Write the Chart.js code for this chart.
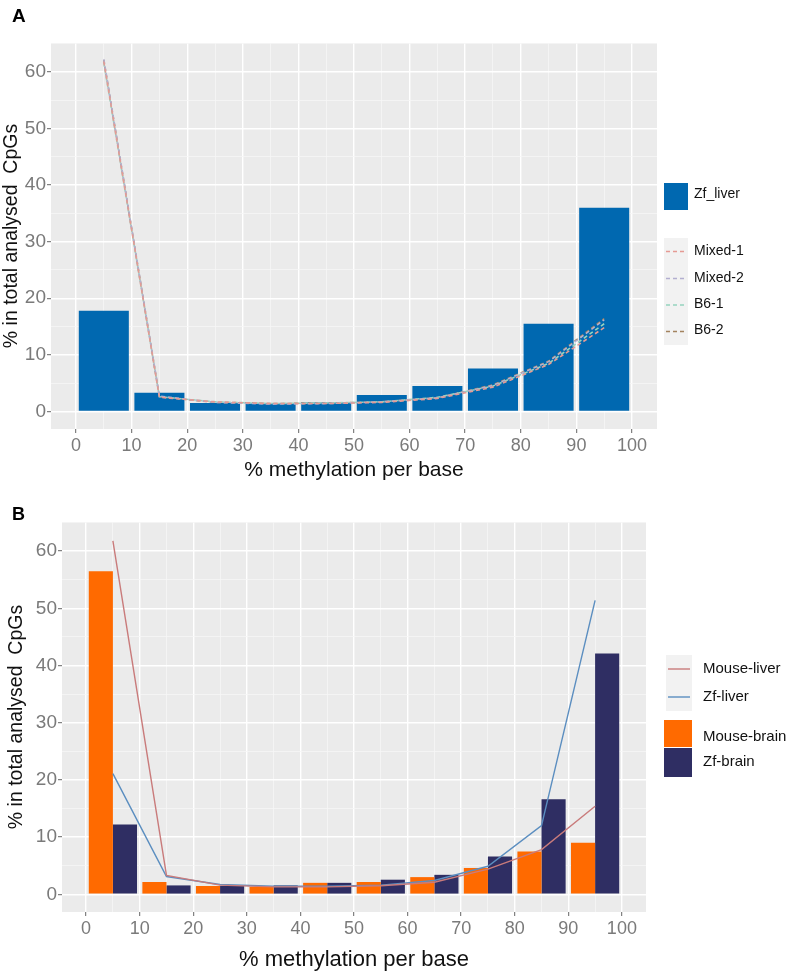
<!DOCTYPE html>
<html>
<head>
<meta charset="utf-8">
<script src="https://cdn.jsdelivr.net/npm/chart.js@4.4.1/dist/chart.umd.min.js"></script>
<style>
  body { margin: 0; background: #fff; }
  .panel { position: relative; width: 787px; height: 487px; }
</style>
</head>
<body>
<div class="panel"><canvas id="chartA" width="787" height="487"></canvas></div>
<div class="panel"><canvas id="chartB" width="787" height="487"></canvas></div>
<script>
// bin midpoints (% methylation) and axis labels
const bins = [5, 15, 25, 35, 45, 55, 65, 75, 85, 95];
const xLabels = [0, 10, 20, 30, 40, 50, 60, 70, 80, 90, 100];
const yLabels = [0, 10, 20, 30, 40, 50, 60];

// panel A
const zfLiverBars = [17.8, 3.3, 1.5, 1.4, 1.6, 2.9, 4.5, 7.6, 15.5, 36.0];
const mixed1 = [61.8, 2.5, 1.7, 1.4, 1.4, 1.6, 2.3, 4.3, 8.3, 14.8];
const mixed2 = [62.2, 2.7, 1.6, 1.3, 1.4, 1.7, 2.4, 4.6, 8.8, 16.2];
const b61 = [61.6, 2.6, 1.7, 1.4, 1.5, 1.7, 2.5, 4.5, 8.5, 15.5];
const b62 = [62.1, 2.6, 1.6, 1.4, 1.45, 1.7, 2.4, 4.7, 8.9, 16.4];

// panel B
const mouseBrain = [56.5, 2.15, 1.45, 1.3, 2.0, 2.15, 3.0, 4.6, 7.5, 9.0];
const zfBrain = [12.2, 1.55, 1.45, 1.55, 2.0, 2.55, 3.4, 6.6, 16.6, 42.1];
const mouseLiver = [61.8, 3.3, 1.6, 1.3, 1.3, 1.5, 2.1, 4.4, 7.8, 15.4];
const zfLiverLine = [21.1, 3.1, 1.7, 1.4, 1.4, 1.6, 2.4, 4.9, 12.0, 51.4];

const FONT = "'Liberation Sans', Arial, sans-serif";
Chart.defaults.font.family = FONT;

const pts = vals => bins.map((b, i) => ({x: b, y: vals[i]}));

// grey panel, tag letter and a ggplot-like legend
const ggPanel = {
  id: 'ggPanel',
  beforeDraw(chart) {
    const {ctx, chartArea: a} = chart;
    ctx.save();
    ctx.fillStyle = '#ebebeb';
    ctx.fillRect(a.left, a.top, a.width, a.height);
    ctx.restore();
  },
  afterDraw(chart, args, opts) {
    const ctx = chart.ctx;
    ctx.save();
    ctx.fillStyle = '#000';
    ctx.font = 'bold ' + opts.tagSize + 'px ' + FONT;
    ctx.textBaseline = 'alphabetic';
    ctx.fillText(opts.tag, 12, opts.tagY);

    opts.legend.forEach(it => {
      const ds = chart.data.datasets[it.ds];
      const [x, y, w, h] = it.box;
      if (ds.type === 'bar') {
        ctx.fillStyle = ds.backgroundColor;
        ctx.fillRect(x, y, w, h);
      } else {
        ctx.fillStyle = '#f2f2f2';
        ctx.fillRect(x, y, w, h);
        ctx.strokeStyle = ds.borderColor;
        ctx.lineWidth = ds.borderWidth;
        ctx.setLineDash(ds.borderDash || []);
        ctx.beginPath();
        ctx.moveTo(x + 2, y + h / 2);
        ctx.lineTo(x + w - 2, y + h / 2);
        ctx.stroke();
        ctx.setLineDash([]);
      }
      ctx.fillStyle = '#111';
      ctx.font = opts.legendSize + 'px ' + FONT;
      ctx.textBaseline = 'middle';
      ctx.fillText(ds.label, opts.textX, it.textY);
    });
    ctx.restore();
  }
};

function scales(o) {
  const major = (v, step) => Math.abs(v % step) < 1e-9;
  const grid = step => ({
    offset: false,
    color: c => major(c.tick.value, step) ? '#ffffff' : '#f6f6f6',
    lineWidth: c => major(c.tick.value, step) ? 1.4 : 0.8,
    tickColor: c => major(c.tick.value, step) ? '#666' : 'rgba(0,0,0,0)',
    tickWidth: 1,
    tickLength: 4
  });
  return {
    x: {
      type: 'linear', min: -4.5, max: 104.5, offset: false,
      grid: grid(10),
      border: {display: false},
      ticks: {
        stepSize: 5, includeBounds: false, autoSkip: false, maxRotation: 0,
        padding: 2, color: '#7a7a7a', font: {size: 18},
        callback: v => xLabels.includes(v) ? String(v) : ''
      },
      title: {display: true, text: '% methylation per base', color: '#111',
        font: {size: o.xTitle}, padding: {top: 0, bottom: o.xTitlePad}},
      afterFit: s => { s.height = o.xH; }
    },
    y: {
      type: 'linear', min: -3.1, max: 65.1,
      grid: grid(10),
      border: {display: false},
      ticks: {
        stepSize: 5, includeBounds: false, autoSkip: false,
        padding: 1, color: '#7a7a7a', font: {size: 19},
        callback: v => yLabels.includes(v) ? String(v) : ''
      },
      title: {display: true, text: '% in total analysed  CpGs', color: '#111',
        font: {size: o.yTitle}, padding: {top: o.yTitlePad, bottom: 0}},
      afterFit: s => { s.width = o.yW; }
    }
  };
}

const lineDs = (label, vals, color, dash, width) => ({
  type: 'line', label, data: pts(vals), borderColor: color, borderWidth: width,
  borderDash: dash, pointRadius: 0, fill: false, order: 0, tension: 0
});
// grid ticks sit every 5 units, half the bin width, so the bar ruler
// sees 5 units: 1.8 gives bars 9 units wide as in the original
const barDs = (label, vals, color) => ({
  type: 'bar', label, data: pts(vals), backgroundColor: color, borderWidth: 0,
  categoryPercentage: 1.8, barPercentage: 1.0, order: 1
});

new Chart(document.getElementById('chartA'), {
  type: 'bar',
  data: {
    datasets: [
      barDs('Zf_liver', zfLiverBars, '#0068b0'),
      lineDs('Mixed-1', mixed1, '#e59a94', [4, 3], 1.6),
      lineDs('Mixed-2', mixed2, '#b3afd0', [4, 3], 1.6),
      lineDs('B6-1', b61, '#95d3bf', [4, 3], 1.6),
      lineDs('B6-2', b62, '#a3835f', [4, 3], 1.6)
    ]
  },
  options: {
    responsive: false, animation: false,
    layout: {padding: {top: 43, right: 130, left: 0, bottom: 0}},
    scales: scales({xTitle: 21, xTitlePad: 4, xH: 58, yTitle: 19.5, yTitlePad: 0, yW: 51}),
    plugins: {
      legend: {display: false}, tooltip: {enabled: false},
      ggPanel: {
        tag: 'A', tagSize: 19, tagY: 22, legendSize: 14, textX: 694,
        legend: [
          {ds: 0, box: [664, 183, 24, 27], textY: 194},
          {ds: 1, box: [664, 238, 24, 27], textY: 251},
          {ds: 2, box: [664, 265, 24, 27], textY: 278},
          {ds: 3, box: [664, 292, 24, 26], textY: 304},
          {ds: 4, box: [664, 318, 24, 27], textY: 330}
        ]
      }
    }
  },
  plugins: [ggPanel]
});

new Chart(document.getElementById('chartB'), {
  type: 'bar',
  data: {
    datasets: [
      lineDs('Mouse-liver', mouseLiver, '#c97b7b', [], 1.4),
      lineDs('Zf-liver', zfLiverLine, '#5b8ec0', [], 1.4),
      barDs('Mouse-brain', mouseBrain, '#ff6a00'),
      barDs('Zf-brain', zfBrain, '#2f2e63')
    ]
  },
  options: {
    responsive: false, animation: false,
    layout: {padding: {top: 35, right: 141, left: 0, bottom: 0}},
    scales: scales({xTitle: 22, xTitlePad: 1, xH: 62, yTitle: 19.5, yTitlePad: 5, yW: 62}),
    plugins: {
      legend: {display: false}, tooltip: {enabled: false},
      ggPanel: {
        tag: 'B', tagSize: 18, tagY: 33, legendSize: 15, textX: 703,
        legend: [
          {ds: 0, box: [666, 168, 26, 28], textY: 182},
          {ds: 1, box: [666, 196, 26, 28], textY: 210},
          {ds: 2, box: [664, 233, 28, 27], textY: 250},
          {ds: 3, box: [664, 261, 28, 29], textY: 275}
        ]
      }
    }
  },
  plugins: [ggPanel]
});
</script>
</body>
</html>
